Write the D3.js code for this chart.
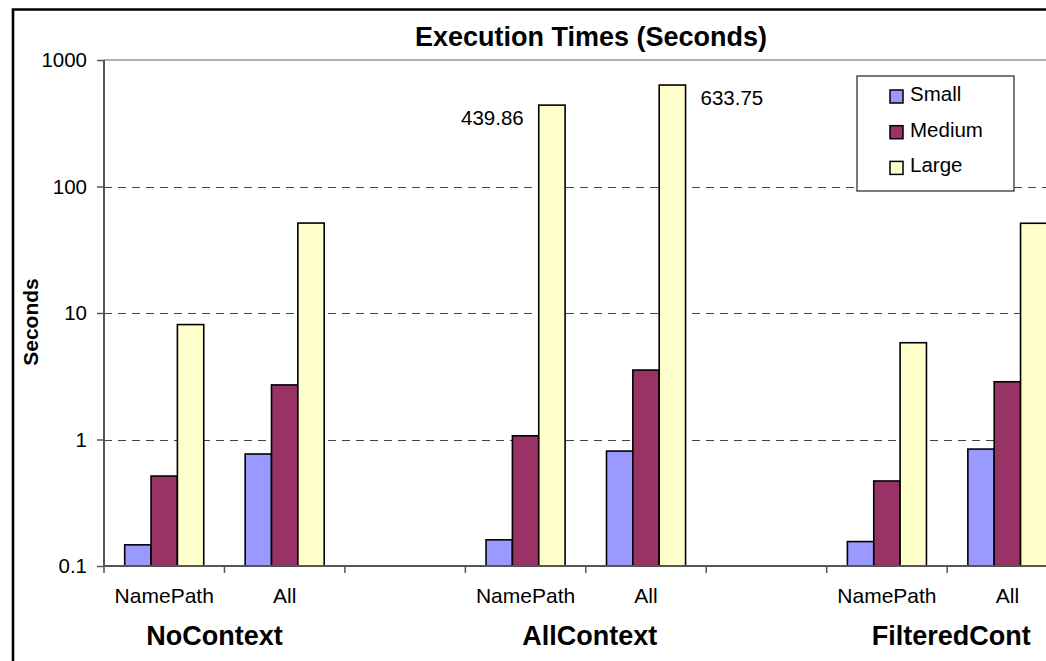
<!DOCTYPE html>
<html>
<head>
<meta charset="utf-8">
<script src="https://cdn.jsdelivr.net/npm/d3@7"></script>
<style>
  html, body { margin: 0; padding: 0; background: #fff; }
  svg { display: block; font-family: "Liberation Sans", Arial, sans-serif; }
</style>
</head>
<body>
<svg id="chart" width="1046" height="661"></svg>
<script>
// Execution times per context mode and query, for three data sizes
const groups = ["NoContext", "AllContext", "FilteredCont"];
const queries = ["NamePath", "All"];
const series = ["Small", "Medium", "Large"];
const small  = [0.147, 0.768, 0.161, 0.81, 0.156, 0.84];
const medium = [0.514, 2.7, 1.07, 3.54, 0.47, 2.86];
const large  = [8.1, 51.4, 439.86, 633.75, 5.82, 51.2];
const yTicks = [0.1, 1, 10, 100, 1000];
// bars whose value is printed next to them: [series, row index, side]
const valueLabels = [["Large", 2, "left"], ["Large", 3, "right"]];

const colors = { Small: "#9999ff", Medium: "#993366", Large: "#ffffcc" };
const seriesValues = { Small: small, Medium: medium, Large: large };

const svg = d3.select("#chart");
const W = 1046, H = 661;
const plot = { left: 104, top: 60, bottom: 566, slot: 120.45 };

// each group gets its query slots plus one empty spacer slot
const slots = [];
groups.forEach(g => { queries.forEach(q => slots.push(g + "|" + q)); slots.push(g + "|"); });

const x = d3.scaleBand()
  .domain(slots)
  .range([plot.left, plot.left + plot.slot * slots.length]);

const xs = d3.scaleBand()
  .domain(series)
  .range([20.7, x.bandwidth() - 20.7]);

const y = d3.scaleLog()
  .domain([0.1, 1000])
  .range([plot.bottom, plot.top]);

// rows in slot order
const rows = [];
groups.forEach(g => queries.forEach(q => rows.push({ group: g, query: q, key: g + "|" + q })));

// outer chart frame (left and top edges)
svg.append("path")
  .attr("d", `M13,${H + 5} L13,9.5 L${W + 5},9.5`)
  .attr("fill", "none").attr("stroke", "#000").attr("stroke-width", 2.6);

// plot area top edge
svg.append("line")
  .attr("x1", plot.left).attr("x2", W + 5)
  .attr("y1", y(1000)).attr("y2", y(1000))
  .attr("stroke", "#999").attr("stroke-width", 1.5);

// dashed gridlines
svg.append("g").selectAll("line")
  .data(yTicks.filter(t => t > 0.1 && t < 1000))
  .join("line")
  .attr("x1", plot.left).attr("x2", W + 5)
  .attr("y1", d => Math.round(y(d)) + 0.5).attr("y2", d => Math.round(y(d)) + 0.5)
  .attr("stroke", "#444").attr("stroke-width", 1.2)
  .attr("stroke-dasharray", "8,6");

// bars
const barG = svg.append("g");
series.forEach(s => {
  barG.append("g").selectAll("rect")
    .data(rows.map((r, i) => ({ ...r, v: seriesValues[s][i] })))
    .join("rect")
    .attr("x", d => x(d.key) + xs(s))
    .attr("y", d => y(d.v))
    .attr("width", xs.bandwidth())
    .attr("height", d => y(0.1) - y(d.v))
    .attr("fill", colors[s])
    .attr("stroke", "#000")
    .attr("stroke-width", 1.6);
});

// value labels
svg.append("g").selectAll("text")
  .data(valueLabels)
  .join("text")
  .attr("x", d => {
    const r = rows[d[1]];
    const bx = x(r.key) + xs(d[0]);
    return d[2] === "left" ? bx - 15 : bx + xs.bandwidth() + 15;
  })
  .attr("y", d => y(seriesValues[d[0]][d[1]]) + 20)
  .attr("text-anchor", d => d[2] === "left" ? "end" : "start")
  .attr("font-size", 20.5)
  .attr("fill", "#000")
  .text(d => seriesValues[d[0]][d[1]].toFixed(2));

// y axis
const yAxis = svg.append("g")
  .attr("transform", `translate(${plot.left},0)`)
  .call(d3.axisLeft(y).tickValues(yTicks).tickFormat(d3.format("~g")).tickSize(7).tickPadding(10));
yAxis.select(".domain").attr("stroke", "#555").attr("stroke-width", 2).attr("d", `M0,${plot.top}V${plot.bottom}`);
yAxis.selectAll(".tick line").attr("stroke", "#555").attr("stroke-width", 1.5);
yAxis.selectAll(".tick text").attr("font-size", 20.5).attr("fill", "#000")
  .attr("font-family", "Liberation Sans, Arial, sans-serif");

// x axis baseline and slot boundary ticks
svg.append("line")
  .attr("x1", plot.left).attr("x2", W + 5)
  .attr("y1", plot.bottom).attr("y2", plot.bottom)
  .attr("stroke", "#555").attr("stroke-width", 2);
svg.append("g").selectAll("line")
  .data(slots)
  .join("line")
  .attr("x1", d => x(d)).attr("x2", d => x(d))
  .attr("y1", plot.bottom).attr("y2", plot.bottom + 7)
  .attr("stroke", "#555").attr("stroke-width", 1.5);

// query labels
svg.append("g").selectAll("text")
  .data(rows)
  .join("text")
  .attr("x", d => x(d.key) + x.bandwidth() / 2)
  .attr("y", 603)
  .attr("text-anchor", "middle")
  .attr("font-size", 21)
  .attr("fill", "#000")
  .text(d => d.query);

// group labels
svg.append("g").selectAll("text")
  .data(groups)
  .join("text")
  .attr("x", (g, i) => x(g + "|" + queries[queries.length - 1]) + (i === 0 ? -10 : 4))
  .attr("y", 645)
  .attr("text-anchor", "middle")
  .attr("font-size", 27)
  .attr("font-weight", "bold")
  .attr("fill", "#000")
  .text(g => g);

// y axis title
svg.append("text")
  .attr("transform", "translate(38,322) rotate(-90)")
  .attr("text-anchor", "middle")
  .attr("font-size", 21)
  .attr("font-weight", "bold")
  .text("Seconds");

// chart title
svg.append("text")
  .attr("x", 591).attr("y", 46)
  .attr("text-anchor", "middle")
  .attr("font-size", 27)
  .attr("font-weight", "bold")
  .text("Execution Times (Seconds)");

// legend
const legend = svg.append("g").attr("transform", "translate(857,76)");
legend.append("rect")
  .attr("width", 157).attr("height", 115)
  .attr("fill", "#fff").attr("stroke", "#333").attr("stroke-width", 1.3);
const item = legend.selectAll("g.item")
  .data(series)
  .join("g").attr("class", "item")
  .attr("transform", (d, i) => `translate(33,${14 + i * 35.7})`);
item.append("rect")
  .attr("width", 13).attr("height", 13)
  .attr("fill", d => colors[d]).attr("stroke", "#000").attr("stroke-width", 1.5);
item.append("text")
  .attr("x", 20).attr("y", 11)
  .attr("font-size", 20.5)
  .attr("fill", "#000")
  .text(d => d);
</script>
</body>
</html>
